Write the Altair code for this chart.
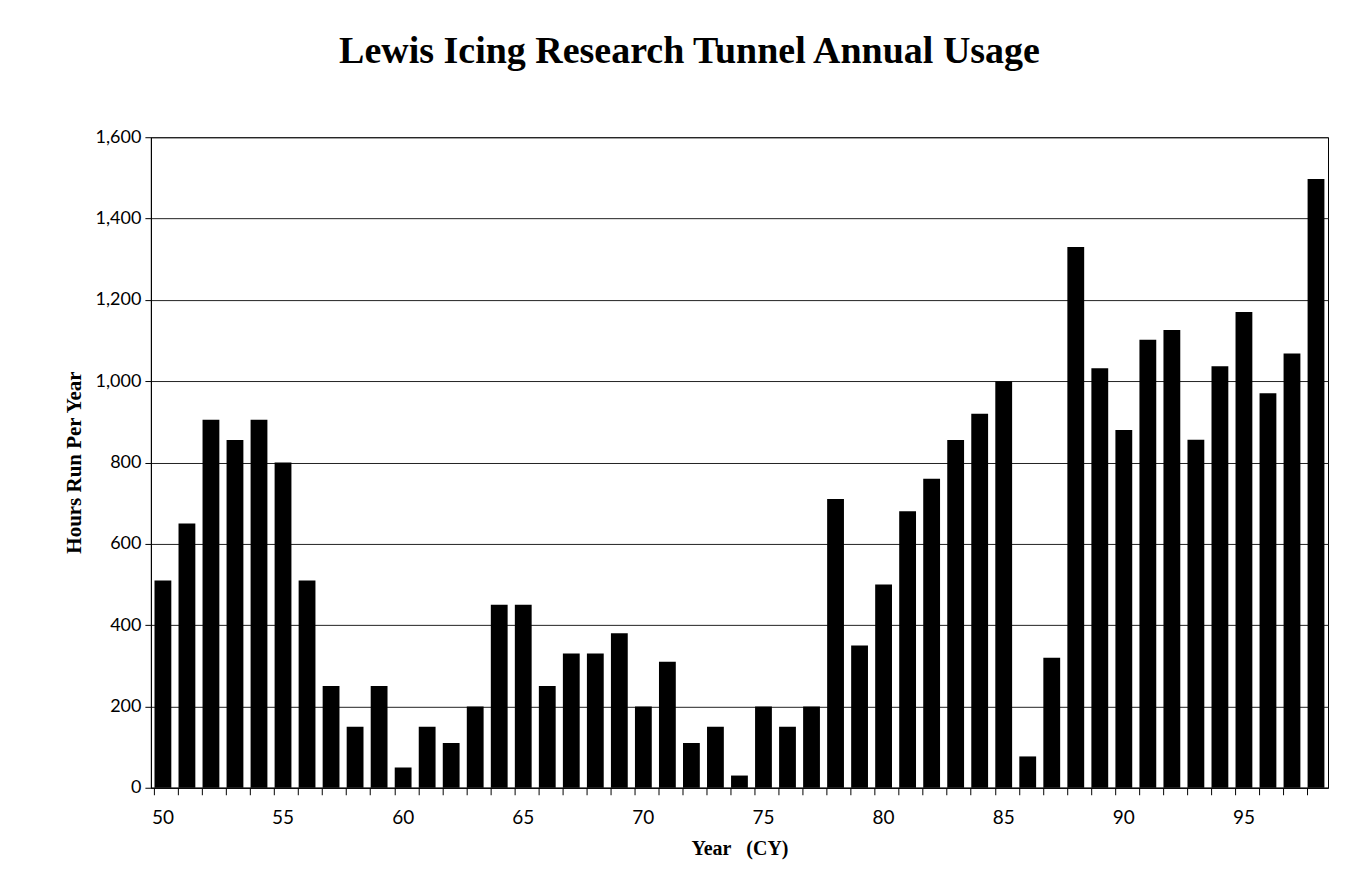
import altair as alt
import pandas as pd

years = list(range(50, 99))
hours = [510, 650, 905, 855, 905, 800, 510, 250, 150, 250,
         50, 150, 110, 200, 450, 450, 250, 330, 330, 380,
         200, 310, 110, 150, 30, 200, 150, 200, 710, 350,
         500, 680, 760, 855, 920, 1000, 77, 320, 1330, 1032,
         880, 1102, 1126, 856, 1037, 1170, 970, 1068, 1497]
label_years = [50, 55, 60, 65, 70, 75, 80, 85, 90, 95]
y_ticks = [0, 200, 400, 600, 800, 1000, 1200, 1400, 1600]

df = pd.DataFrame({"year": years, "hours": hours})

xscale = alt.Scale(paddingInner=0.3, paddingOuter=0.15)
yscale = alt.Scale(domain=[0, 1600], nice=False)

yaxis = alt.Axis(values=y_ticks, labelExpr="format(datum.value, ',')",
                 title="Hours Run Per Year",
                 titleFont="Liberation Serif", titleFontSize=21,
                 titleFontWeight="bold", titleColor="black",
                 titleX=-76, titleY=325, titleAngle=-90,
                 titleBaseline="middle",
                 labelFont="Lato", labelFontSize=18, labelColor="black",
                 tickSize=6, tickColor="black", labelPadding=4,
                 domainColor="black", grid=True, gridColor="#222222",
                 gridWidth=1)

bars = alt.Chart(df).mark_bar(color="black").encode(
    x=alt.X("year:O", scale=xscale, sort=years,
            axis=alt.Axis(orient="bottom", labels=False, title=None, ticks=True,
                          tickSize=7, tickColor="black", bandPosition=0,
                          domain=True, domainColor="black", grid=False)),
    y=alt.Y("hours:Q", scale=yscale, axis=yaxis),
)

labels = alt.Chart(df).mark_bar(opacity=0).encode(
    x=alt.X("year:O", scale=xscale, sort=years,
            axis=alt.Axis(orient="bottom", values=label_years, ticks=False,
                          domain=False, grid=False,
                          labelAngle=0, labelFont="Lato", labelFontSize=19,
                          labelColor="black", labelPadding=21,
                          title="Year\u00a0\u00a0\u00a0(CY)", titleFont="Liberation Serif",
                          titleFontSize=20, titleFontWeight="bold",
                          titleColor="black", titleY=61, titleBaseline="middle")),
    y=alt.Y("hours:Q", scale=yscale, axis=yaxis),
)

chart = alt.layer(bars, labels).resolve_axis(x="independent").properties(
    width=1178, height=651,
    background="white",
    autosize=alt.AutoSizeParams(type="none"),
    padding={"left": 143, "top": 129, "right": 20, "bottom": 90},
    title=alt.TitleParams("Lewis Icing Research Tunnel Annual Usage",
                          font="Liberation Serif", fontSize=38, fontWeight="bold",
                          color="black", offset=27, baseline="alphabetic", dx=-50),
).configure_view(stroke="black", strokeWidth=1)

chart.save("out.html", embed_options={"renderer": "svg", "actions": False})
